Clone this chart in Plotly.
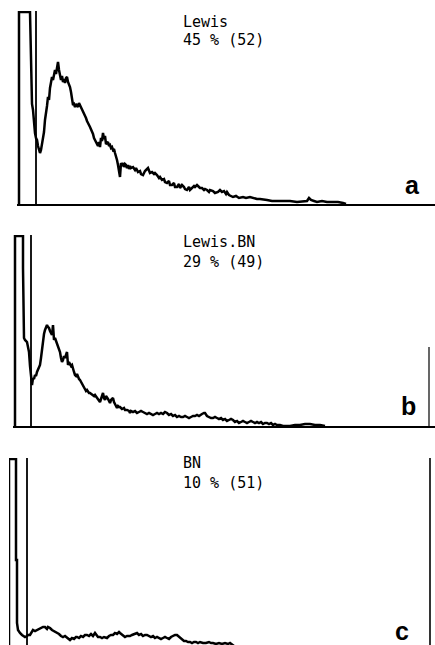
import plotly.graph_objects as go

W, H = 435, 645

# ---- data (channel, count) ----
a_ch = [19,19,30,31,32,33,34,35,36,37,38,39,40,41,42,43,44,45,46,47,48,49,50,51,52,53,54,55,56,57,58,59,60,61,62,63,64,65,66,67,68,69,70,71,72,73,74,75,76,77,78,79,80,81,82,83,84,85,86,87,88,89,90,91,92,93,94,95,96,97,98,99,100,101,102,103,104,105,106,107,108,109,110,111,112,113,114,115,116,117,118,119,120,121,122,123,124,125,126,127,128,129,130,131,133,135,136,138,140,141,143,145,147,148,150,152,154,155,157,159,160,162,164,165,167,169,170,172,174,175,177,179,180,182,184,185,187,189,190,192,194,195,197,199,200,202,204,205,207,209,210,213,215,218,220,222,224,226,227,229,231,233,236,239,243,246,250,253,257,260,264,267,272,277,283,290,297,303,307,309,311,314,317,322,327,333,338,343,346]
a_ct = [0,192,192,150,100,94,80,71,66,64,58,55,51,54,60,64,72,84,90,98,107,104,116,122,127,124,131,134,130,138,142,134,127,124,128,122,125,121,126,127,122,120,117,112,104,99,100,97,100,98,97,101,99,96,94,93,90,89,86,83,80,79,77,75,72,70,66,64,62,60,58,62,57,66,63,71,65,68,60,61,62,58,59,56,57,54,55,51,48,44,39,34,27,41,38,41,37,40,39,36,39,35,38,36,37,34,36,32,33,30,29,33,35,36,31,32,30,31,29,26,27,24,25,22,21,23,19,19,21,17,17,20,16,19,17,15,14,17,14,16,18,17,19,17,16,16,14,15,14,12,14,13,11,12,14,12,13,10,12,9,8,7,8,6,7,6,7,6,5,5,4,4,3,3,3,3,2,3,3,6,4,3,2,3,2,2,2,1,0]

b_ch = [15,15,23,23,24,25,27,28,29,30,31,32,33,34,35,36,37,38,39,40,41,42,43,44,45,46,47,48,49,50,51,52,53,54,55,56,57,58,59,60,61,62,63,64,65,66,67,68,69,70,71,72,73,74,75,76,77,78,79,80,81,82,83,84,85,86,87,88,89,90,92,94,95,97,98,99,100,101,102,103,104,105,106,107,108,109,110,111,112,113,114,115,116,117,118,119,120,122,124,125,127,129,130,131,133,135,137,139,141,143,145,147,149,151,153,155,157,159,161,163,165,167,169,171,173,175,177,179,181,183,185,187,189,191,193,195,197,199,200,202,204,205,207,209,211,213,215,217,219,221,223,225,227,229,231,233,235,237,239,241,243,245,247,249,251,253,255,257,259,261,263,265,267,269,271,273,275,277,280,283,290,295,300,305,310,315,320,325]
b_ct = [0,190,190,158,88,86,84,79,74,60,48,41,48,47,51,50,54,56,58,61,68,78,88,92,96,99,101,99,98,95,93,91,101,86,88,85,84,80,76,74,68,64,66,70,68,72,74,61,64,62,60,61,56,54,51,50,52,48,47,46,44,42,40,38,36,35,36,34,33,33,31,30,31,28,27,26,24,27,31,33,28,26,30,29,27,25,23,26,27,28,24,21,20,18,20,19,19,17,18,16,16,15,13,15,14,15,13,14,15,14,13,12,13,12,11,12,13,12,13,12,14,13,11,12,10,11,9,10,9,9,10,9,8,9,10,10,11,10,11,12,13,13,10,9,8,8,9,8,7,8,6,7,5,6,7,6,4,5,3,4,5,4,3,4,5,4,3,4,3,4,2,3,3,2,3,1,2,1,1,0,0,1,1,2,2,1,1,0]

c_ch = [9,9,16,16,17,17,18,19,20,22,24,25,27,28,30,31,33,35,37,39,41,43,45,47,48,50,52,54,56,57,59,61,63,65,67,69,70,72,74,76,77,79,81,83,85,87,89,91,93,95,97,98,100,102,104,106,107,109,111,113,115,117,119,120,122,123,125,127,130,132,134,137,139,141,143,145,147,149,151,153,155,157,159,161,163,165,167,169,171,173,175,177,179,181,182,184,186,188,190,192,194,196,198,200,203,206,209,211,213,216,219,222,225,228,230,232,234]
c_ct = [0,189,189,88,88,25,18,16,15,13,12,11,12,13,13,15,18,17,18,19,20,21,21,19,21,20,18,17,16,15,14,12,11,12,10,9,8,10,9,11,11,10,12,11,13,13,12,14,12,15,13,11,11,10,11,10,10,12,13,13,15,14,16,15,13,12,11,12,12,13,14,15,13,14,12,13,13,12,11,12,10,11,10,9,10,11,10,9,11,12,13,13,11,9,8,7,7,6,6,5,6,6,5,6,5,5,6,5,5,4,5,4,5,4,5,3,2]

gates = [36, 31, 27]
titles = ["Lewis", "Lewis.BN", "BN"]
stats = ["45 % (52)", "29 % (49)", "10 % (51)"]
letters = ["a", "b", "c"]

# ---- layout geometry (pixels) ----
def py(p):
    return 1 - p / H

panels = [
    dict(x0=17, top=11, base=204, yr=[0, 193], lab_y=(22, 40), let=(412, 185)),
    dict(x0=13, top=235, base=426, yr=[0, 191], lab_y=(242, 262), let=(408, 406)),
    dict(x0=9, top=458, base=645, yr=[3, 190], lab_y=(463, 483), let=(402, 631)),
]
series = [(a_ch, a_ct), (b_ch, b_ct), (c_ch, c_ct)]

fig = go.Figure()
layout = dict(width=W, height=H, margin=dict(l=0, r=0, t=0, b=0),
              paper_bgcolor="white", plot_bgcolor="white", showlegend=False)
annotations = []
shapes = []
for i, (p, (xs, ys)) in enumerate(zip(panels, series)):
    n = "" if i == 0 else str(i + 1)
    fig.add_trace(go.Scatter(x=xs, y=ys, mode="lines",
                             line=dict(color="black", width=2.5),
                             xaxis="x" + n, yaxis="y" + n, hoverinfo="skip"))
    layout["xaxis" + n] = dict(domain=[p["x0"] / W, 1], range=[p["x0"], W],
                               showgrid=False, zeroline=False, showticklabels=False,
                               ticks="", showline=(i < 2), linecolor="black", linewidth=2,
                               anchor="y" + n)
    layout["yaxis" + n] = dict(domain=[py(p["base"]), py(p["top"])], range=p["yr"],
                               showgrid=False, zeroline=False, showticklabels=False,
                               ticks="", showline=False, anchor="x" + n)
    shapes.append(dict(type="line", xref="x" + n, yref="y" + n + " domain",
                       x0=gates[i], x1=gates[i], y0=0, y1=1,
                       line=dict(color="black", width=1.8)))
    annotations.append(dict(text=titles[i], xref="paper", yref="paper",
                            x=181 / W, y=py(p["lab_y"][0]), xanchor="left", yanchor="middle",
                            showarrow=False, font=dict(family="DejaVu Sans Mono", size=15, color="black")))
    annotations.append(dict(text=stats[i], xref="paper", yref="paper",
                            x=181 / W, y=py(p["lab_y"][1]), xanchor="left", yanchor="middle",
                            showarrow=False, font=dict(family="DejaVu Sans Mono", size=15, color="black")))
    annotations.append(dict(text="<b>" + letters[i] + "</b>", xref="paper", yref="paper",
                            x=p["let"][0] / W, y=py(p["let"][1]), xanchor="center", yanchor="middle",
                            showarrow=False, font=dict(family="Liberation Sans", size=25, color="black")))

# right-edge frame remnants
shapes.append(dict(type="line", xref="paper", yref="paper", x0=429 / W, x1=429 / W,
                   y0=py(347), y1=py(427), line=dict(color="black", width=1.2)))
shapes.append(dict(type="line", xref="paper", yref="paper", x0=430 / W, x1=430 / W,
                   y0=py(458), y1=py(645), line=dict(color="black", width=1.6)))

layout["annotations"] = annotations
layout["shapes"] = shapes
fig.update_layout(**layout)
fig.write_html("out.html")
